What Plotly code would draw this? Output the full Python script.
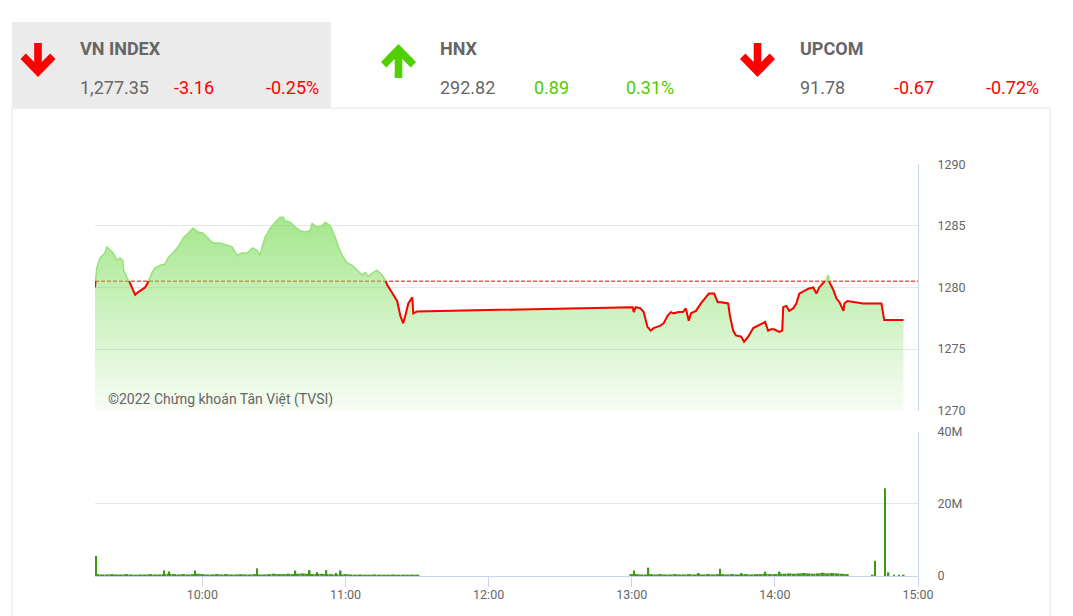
import numpy as np
import pandas as pd
import plotly.graph_objects as go

W, H = 1073, 616
DAY = "2022-08-05"

# ---------------- header data ----------------
index_names = ["VN INDEX", "HNX", "UPCOM"]
index_values = ["1,277.35", "292.82", "91.78"]
index_changes = ["-3.16", "0.89", "-0.67"]
index_pcts = ["-0.25%", "0.31%", "-0.72%"]
index_up = [False, True, False]

last_close = 1277.35
last_change = -3.16
ref_price = last_close - last_change  # previous close 1280.51

# ---------------- intraday VN-Index ----------------
price_times = [
    "09:15:00", "09:15:40", "09:17:05", "09:19:10", "09:20:00", "09:21:20", "09:22:35", "09:24:10",
    "09:25:30", "09:26:40", "09:27:00", "09:28:25", "09:29:20", "09:30:30", "09:31:50", "09:33:00",
    "09:34:40", "09:36:00", "09:37:10", "09:38:55", "09:40:10", "09:42:20", "09:44:25", "09:45:35",
    "09:47:40", "09:49:50", "09:51:55", "09:54:00", "09:56:05", "09:58:10", "10:00:20", "10:02:25",
    "10:04:30", "10:07:25", "10:10:25", "10:12:30", "10:14:35", "10:16:40", "10:18:50", "10:21:00",
    "10:23:00", "10:24:10", "10:25:05", "10:26:20", "10:28:25", "10:30:30", "10:32:35", "10:33:55",
    "10:34:40", "10:36:50", "10:38:55", "10:41:00", "10:43:05", "10:45:10", "10:46:00", "10:48:05",
    "10:50:10", "10:51:30", "10:53:35", "10:55:40", "10:57:00", "10:58:35", "11:00:40", "11:02:50",
    "11:04:55", "11:07:00", "11:08:20", "11:09:30", "11:11:35", "11:13:15", "11:15:25", "11:16:40",
    "11:17:30", "11:18:50", "11:20:00", "11:21:40", "11:23:00", "11:24:10", "11:25:05", "11:26:20",
    "11:28:00", "11:28:25", "11:30:00",
    "13:00:00", "13:00:25", "13:00:50", "13:01:40", "13:03:40", "13:05:00", "13:06:35", "13:07:55",
    "13:09:10", "13:10:50", "13:12:05", "13:13:25", "13:15:00", "13:16:25", "13:17:35", "13:19:40",
    "13:21:25", "13:22:40", "13:23:55", "13:24:50", "13:26:55", "13:29:00", "13:31:05", "13:32:20",
    "13:34:30", "13:36:05", "13:37:25", "13:39:30", "13:40:25", "13:41:10", "13:42:30", "13:43:40",
    "13:45:55", "13:47:05", "13:48:50", "13:50:55", "13:53:00", "13:55:05", "13:55:55", "13:57:10",
    "13:58:25", "13:59:40", "14:01:50", "14:03:05", "14:03:30", "14:04:50", "14:06:00", "14:07:40",
    "14:09:00", "14:10:15", "14:11:55", "14:14:00", "14:16:05", "14:17:25", "14:18:35", "14:20:15",
    "14:21:35", "14:22:25", "14:22:55", "14:24:30", "14:25:50", "14:27:05", "14:28:45", "14:29:10",
    "14:30:25", "14:37:00", "14:44:40", "14:45:50", "14:53:55",
]
price_values = [
    1280.0, 1281.5, 1282.4, 1282.8, 1283.3, 1283.0, 1282.8, 1282.2,
    1282.4, 1282.2, 1281.4, 1280.8, 1280.5, 1280.0, 1279.4, 1279.6,
    1279.8, 1280.0, 1280.4, 1281.2, 1281.6, 1281.8, 1281.9, 1282.4,
    1282.8, 1283.3, 1284.0, 1284.4, 1284.8, 1284.5, 1284.4, 1284.0,
    1283.6, 1283.6, 1283.4, 1283.3, 1282.6, 1282.8, 1282.8, 1283.2,
    1283.0, 1282.6, 1283.3, 1284.1, 1284.8, 1285.3, 1285.7, 1285.7,
    1285.4, 1285.3, 1284.9, 1284.6, 1284.5, 1284.6, 1285.2, 1284.9,
    1285.0, 1285.3, 1285.0, 1284.1, 1283.3, 1282.6, 1282.0, 1281.8,
    1281.4, 1281.0, 1281.2, 1280.9, 1281.2, 1281.4, 1281.0, 1280.6,
    1280.2, 1279.8, 1279.4, 1278.9, 1277.7, 1277.1, 1277.7, 1278.7,
    1279.2, 1277.9, 1278.05,
    1278.4, 1278.4, 1278.0, 1278.4, 1278.3, 1278.0, 1276.8, 1276.5,
    1276.7, 1276.8, 1276.9, 1277.1, 1277.7, 1278.0, 1277.9, 1278.0,
    1278.0, 1278.3, 1277.3, 1277.9, 1278.1, 1278.7, 1279.2, 1279.5,
    1279.5, 1278.8, 1278.8, 1278.7, 1278.7, 1277.7, 1276.5, 1276.1,
    1276.0, 1275.6, 1276.0, 1276.7, 1276.9, 1277.1, 1277.2, 1276.5,
    1276.6, 1276.6, 1276.4, 1276.5, 1278.4, 1278.5, 1278.1, 1278.3,
    1278.7, 1279.5, 1279.7, 1279.9, 1280.0, 1279.5, 1280.0, 1280.4,
    1280.6, 1281.0, 1280.4, 1279.8, 1279.1, 1278.8, 1278.1, 1278.7,
    1278.9, 1278.7, 1278.7, 1277.35, 1277.35,
]

# ---------------- volume (millions of shares) ----------------
vol_morning_start, vol_morning_end = "09:16", "11:30"
vol_base_morning = [
    0.5, 0.4, 0.4, 0.5, 0.4, 0.4, 0.5, 0.4, 0.3, 0.4, 0.4, 0.5, 0.4, 0.4, 0.5, 0.6, 0.5, 0.4, 0.5, 0.4,
    0.5, 0.6, 0.5, 0.4, 0.4, 0.5, 0.4, 0.5, 0.4, 0.4, 0.5, 0.4, 0.4, 0.5, 0.4, 0.4, 0.5, 0.6, 0.5, 0.5,
    0.6, 0.5, 0.6, 0.7, 0.6, 0.5, 0.6, 0.6, 0.5, 0.5, 0.4, 0.4, 0.5, 0.4, 0.3, 0.4, 0.3, 0.3, 0.4, 0.3,
    0.3, 0.3, 0.4, 0.3, 0.3, 0.3, 0.3, 0.3,
]
vol_afternoon_start, vol_afternoon_end = "13:00", "14:30"
vol_base_afternoon = [
    0.5, 0.5, 0.4, 0.4, 0.5, 0.4, 0.5, 0.4, 0.4, 0.5, 0.4, 0.4, 0.5, 0.4, 0.5, 0.4, 0.5, 0.4, 0.5, 0.5,
    0.4, 0.5, 0.4, 0.5, 0.5, 0.4, 0.5, 0.5, 0.6, 0.5, 0.5, 0.6, 0.6, 0.7, 0.6, 0.7, 0.8, 0.7, 0.6, 0.7,
    0.8, 0.7, 0.8, 0.7, 0.6, 0.5,
]
spike_times = [
    "09:15:30", "09:44:00", "09:46:00", "09:57:00", "10:23:00", "10:39:00", "10:45:00", "10:48:00",
    "10:52:00", "10:56:00", "10:58:00", "13:01:00", "13:07:00", "13:28:00", "13:37:00", "13:46:00",
    "13:56:00", "14:02:00", "14:20:00", "14:41:00", "14:42:00", "14:46:10", "14:47:40", "14:50:00",
    "14:52:00", "14:54:00",
]
spike_values = [
    5.5, 1.5, 1.2, 1.5, 2.1, 1.5, 1.6, 1.0,
    1.6, 0.8, 1.5, 1.5, 2.3, 0.8, 2.0, 0.8,
    1.2, 1.2, 0.9, 0.3, 4.2, 24.3, 1.0, 0.3,
    0.3, 0.3,
]

# ---------------- axes ----------------
time_start, time_end = "09:15", "15:00"
hour_ticks = ["10:00", "11:00", "12:00", "13:00", "14:00", "15:00"]
price_ticks = [1270, 1275, 1280, 1285, 1290]
vol_ticks = [0, 20e6, 40e6]
vol_tick_labels = ["0", "20M", "40M"]

# =====================================================================
# effective drawing area of the page as it is photographed
EW, EH, EOX, EOY = 1057.0, 600.0, 8.0, 16.0


def ts(s):
    return pd.Timestamp(f"{DAY} {s}")


def px(x):
    return (x - EOX) / EW


def py(y):
    return 1 - (y - EOY) / EH


t = pd.to_datetime([f"{DAY} {s}" for s in price_times])
p = np.array(price_values, dtype=float)

# red segments: portions of the line below the previous close
tn = t.asi8.astype(float)
rx, ry = [], []
for i in range(len(p)):
    below = p[i] < ref_price
    if i > 0:
        prev_below = p[i - 1] < ref_price
        if below != prev_below:
            f = (ref_price - p[i - 1]) / (p[i] - p[i - 1])
            tc = tn[i - 1] + f * (tn[i] - tn[i - 1])
            rx.append(pd.Timestamp(int(tc)))
            ry.append(ref_price)
            if not below:
                rx.append(None)
                ry.append(None)
    if below:
        rx.append(t[i])
        ry.append(p[i])

GREEN_LINE = "rgb(150,226,120)"
RED = "#ff0000"
GRID = "#e6e6e6"
AXLINE = "#ccd6eb"
TXT = "#666666"
FONT = "Roboto"

fig = go.Figure()

# previous close reference line (under the semi-transparent fill)
fig.add_trace(go.Scatter(
    x=[ts(time_start), ts(time_end)], y=[ref_price, ref_price], mode="lines",
    line=dict(color=RED, width=1, dash="4px,2px"), hoverinfo="skip",
    xaxis="x", yaxis="y"))

# area + green line
fig.add_trace(go.Scatter(
    x=t, y=p, mode="lines", line=dict(color=GREEN_LINE, width=1.5),
    fill="tozeroy",
    fillgradient=dict(type="vertical", start=1270, stop=1286,
                      colorscale=[[0, "rgba(124,220,90,0.04)"], [1, "rgba(124,220,90,0.70)"]]),
    xaxis="x", yaxis="y"))

# red line below previous close
fig.add_trace(go.Scatter(
    x=rx, y=ry, mode="lines", line=dict(color=RED, width=2), connectgaps=False,
    xaxis="x", yaxis="y"))

# volume base bars
vm_t = pd.date_range(ts(vol_morning_start), ts(vol_morning_end), freq="2min")
va_t = pd.date_range(ts(vol_afternoon_start), ts(vol_afternoon_end), freq="2min")
base_t = list(vm_t) + list(va_t)
base_v = [v * 1e6 for v in vol_base_morning + vol_base_afternoon]
VOLC = "#3b9a12"
fig.add_trace(go.Bar(
    x=base_t, y=base_v, width=[115000] * len(base_t),
    marker=dict(color=VOLC, line=dict(width=0)), xaxis="x2", yaxis="y2"))
fig.add_trace(go.Bar(
    x=[ts(s) for s in spike_times], y=[v * 1e6 for v in spike_values],
    width=[40000] * len(spike_times),
    marker=dict(color=VOLC, line=dict(width=0)), xaxis="x2", yaxis="y2"))

xdom = [px(95), px(918)]
xrange_ = [ts(time_start), ts(time_end)]

fig.update_layout(
    width=W, height=H, margin=dict(l=0, r=0, t=0, b=0),
    paper_bgcolor="white", plot_bgcolor="white", showlegend=False,
    font=dict(family=FONT, color=TXT, size=12),
    barmode="overlay",
    xaxis=dict(domain=xdom, range=xrange_, type="date", anchor="y",
               showgrid=False, showticklabels=False, zeroline=False, showline=False),
    yaxis=dict(domain=[py(410), py(164)], range=[1270, 1290], side="right",
               tickvals=price_ticks, gridcolor=GRID, gridwidth=1, zeroline=False,
               showline=True, linecolor=AXLINE, linewidth=1, ticks="",
               ticklabelstandoff=16, tickfont=dict(size=12.5, color=TXT, family=FONT)),
    xaxis2=dict(domain=xdom, range=xrange_, type="date", anchor="y2",
                showgrid=False, zeroline=False, showline=True, linecolor=AXLINE,
                ticks="outside", ticklen=10, tickcolor=AXLINE,
                ticklabelstandoff=-3,
                tickvals=[ts(h) for h in hour_ticks], tickformat="%H:%M",
                tickfont=dict(size=12.5, color=TXT, family=FONT)),
    yaxis2=dict(domain=[py(575), py(431)], range=[0, 40e6], side="right",
                tickvals=vol_ticks, ticktext=vol_tick_labels, gridcolor=GRID,
                zeroline=False, showline=True, linecolor=AXLINE, ticks="",
                ticklabelstandoff=16, tickfont=dict(size=12.5, color=TXT, family=FONT)),
)

shapes = []
# container border
shapes.append(dict(type="rect", xref="paper", yref="paper",
                   x0=px(12), x1=px(1050), y0=py(640), y1=py(108),
                   line=dict(color="#e6e6e6", width=1), fillcolor="rgba(0,0,0,0)", layer="below"))
# selected index background
shapes.append(dict(type="rect", xref="paper", yref="paper",
                   x0=px(12), x1=px(331), y0=py(108), y1=py(22),
                   line=dict(width=0), fillcolor="#ebebeb", layer="below"))


def arrow_path(cx, top, up):
    h = 34.0
    outline = [(-3.8, 0), (3.8, 0), (3.8, 19.0), (12.2, 10.5), (17.5, 16), (0, h),
               (-17.5, 16), (-12.2, 10.5), (-3.8, 19.0)]
    out = []
    for dx, dy in outline:
        yy = (h - dy) if up else dy
        out.append((px(cx + dx), py(top + yy)))
    return "M " + " L ".join(f"{a:.5f},{b:.5f}" for a, b in out) + " Z"


arrow_x = [38, 398.5, 757.5]
arrow_top = [43, 44, 43]
for k in range(3):
    col = "#4fd000" if index_up[k] else "#ff0000"
    shapes.append(dict(type="path", xref="paper", yref="paper",
                       path=arrow_path(arrow_x[k], arrow_top[k], index_up[k]),
                       fillcolor=col, line=dict(width=0)))
fig.update_layout(shapes=shapes)

ann = []
col_x = [78, 438, 798]
for k in range(3):
    c = "#4fcc00" if index_up[k] else "#ff0000"
    ann.append(dict(x=px(col_x[k]), y=py(48), text=f"<b>{index_names[k]}</b>",
                    font=dict(size=18, color=TXT, family=FONT)))
    ann.append(dict(x=px(col_x[k]), y=py(87), text=index_values[k],
                    font=dict(size=18, color=TXT, family=FONT)))
    ann.append(dict(x=px(col_x[k] + 94), y=py(87), text=index_changes[k],
                    font=dict(size=18, color=c, family=FONT)))
    ann.append(dict(x=px(col_x[k] + 186), y=py(87), text=index_pcts[k],
                    font=dict(size=18, color=c, family=FONT)))
ann.append(dict(x=px(106), y=py(399), text="©2022 Chứng khoán Tân Việt (TVSI)",
                font=dict(size=14, color=TXT, family=FONT)))
for a in ann:
    a.update(xref="paper", yref="paper", xanchor="left", yanchor="middle",
             showarrow=False)
fig.update_layout(annotations=ann)

fig.write_html("out.html", config={"displayModeBar": False})
